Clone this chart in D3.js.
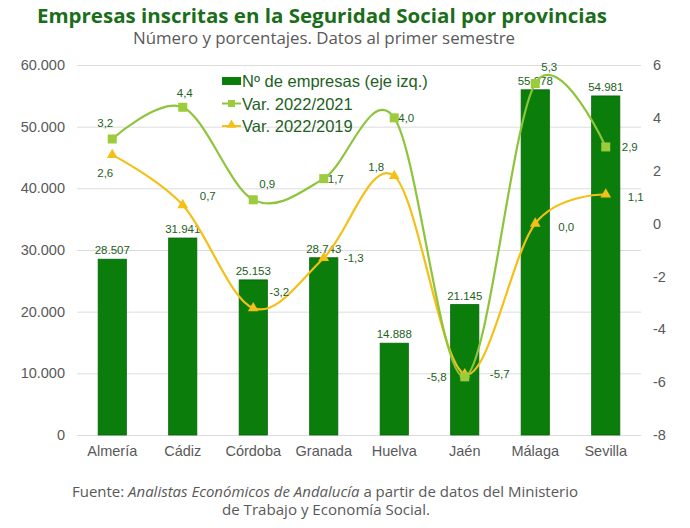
<!DOCTYPE html>
<html>

<head>
  <meta charset="utf-8">
  <title>Empresas inscritas en la Seguridad Social</title>
  <script type="text/javascript" src="https://cdn.jsdelivr.net/npm/d3@7"></script>
  <style type="text/css">
    body { margin: 0; background: #fff; }
    svg { display: block; }
  </style>
</head>

<body>
  <script type="text/javascript">

    // Data
    const provincias = ["Almería", "Cádiz", "Córdoba", "Granada", "Huelva", "Jaén", "Málaga", "Sevilla"];
    const empresas = [28507, 31941, 25153, 28743, 14888, 21145, 55978, 54981];
    const var2021 = [3.2, 4.4, 0.9, 1.7, 4.0, -5.8, 5.3, 2.9];
    const var2019 = [2.6, 0.7, -3.2, -1.3, 1.8, -5.7, 0.0, 1.1];
    const leftTicks = [0, 10000, 20000, 30000, 40000, 50000, 60000];
    const rightTicks = [-8, -6, -4, -2, 0, 2, 4, 6];

    // Where each data label sits relative to its marker (manual, as in the original)
    const labelOff2021 = [[-7, -16], [2, -14], [14, -16], [12, 0], [12, 0], [-28, 0], [14, -17], [24, 0]];
    const labelOff2019 = [[-7, 18], [25, -9], [26, -16], [30, 0], [-18, -9], [35, 0], [31, 3], [30, 2]];

    // Width and height
    const w = 690;
    const h = 528;
    const plotLeft = 77, plotRight = 641, plotTop = 65, plotBottom = 435;

    const green = "#0a7d0a";
    const lime = "#8dc43c";
    const yellow = "#f4bf16";
    const labelGreen = "#235f23";
    const gray = "#595959";

    const es = d3.formatLocale({ decimal: ",", thousands: ".", grouping: [3], currency: ["", "€"], minus: "-" });
    const fmtInt = es.format(",d");
    const fmtDec = es.format(".1f");

    const svg = d3.select("body")
      .append("svg")
      .attr("width", w)
      .attr("height", h)
      .style("font-family", "'Liberation Sans', Arial, sans-serif");

    // Scales
    const x = d3.scaleBand()
      .domain(provincias)
      .range([plotLeft, plotRight])
      .paddingInner(0.6)
      .paddingOuter(0.3);
    const yL = d3.scaleLinear().domain([0, 60000]).range([plotBottom, plotTop]);
    const yR = d3.scaleLinear().domain([-8, 6]).range([plotBottom, plotTop]);
    const cx = function (d, i) { return x(provincias[i]) + x.bandwidth() / 2; };

    // Titles
    svg.append("text")
      .attr("x", 37).attr("y", 23)
      .attr("textLength", 570).attr("lengthAdjust", "spacingAndGlyphs")
      .style("font-family", "'Open Sans', sans-serif")
      .style("font-weight", "bold").style("font-size", "19px")
      .attr("fill", "#1a6e1a")
      .text("Empresas inscritas en la Seguridad Social por provincias");
    svg.append("text")
      .attr("x", 133).attr("y", 44)
      .attr("textLength", 382).attr("lengthAdjust", "spacingAndGlyphs")
      .style("font-family", "'Open Sans', sans-serif")
      .style("font-size", "16px")
      .attr("fill", gray)
      .text("Número y porcentajes. Datos al primer semestre");

    // Left axis + gridlines
    const axL = svg.append("g")
      .attr("transform", "translate(" + plotLeft + ",0)")
      .call(d3.axisLeft(yL).tickValues(leftTicks).tickFormat(fmtInt)
        .tickSize(-(plotRight - plotLeft)).tickPadding(12));
    axL.select(".domain").remove();
    axL.selectAll("line").attr("stroke", "#dcdcdc");
    axL.selectAll("text").attr("fill", gray).style("font-size", "14.5px")
      .style("font-family", "'Liberation Sans', Arial, sans-serif");

    // Right axis
    const axR = svg.append("g")
      .attr("transform", "translate(" + plotRight + ",0)")
      .call(d3.axisRight(yR).tickValues(rightTicks).tickFormat(es.format("d"))
        .tickSize(0).tickPadding(12));
    axR.select(".domain").remove();
    axR.selectAll("text").attr("fill", gray).style("font-size", "14.5px")
      .style("font-family", "'Liberation Sans', Arial, sans-serif");

    // X axis labels
    const axX = svg.append("g")
      .attr("transform", "translate(0," + plotBottom + ")")
      .call(d3.axisBottom(x).tickSize(0).tickPadding(11));
    axX.select(".domain").remove();
    axX.selectAll("text").attr("fill", gray).style("font-size", "14.5px")
      .style("font-family", "'Liberation Sans', Arial, sans-serif");

    // Bars
    svg.selectAll("rect.bar")
      .data(empresas)
      .enter()
      .append("rect")
      .attr("class", "bar")
      .attr("x", function (d, i) { return x(provincias[i]); })
      .attr("y", function (d) { return yL(d); })
      .attr("width", x.bandwidth())
      .attr("height", function (d) { return plotBottom - yL(d); })
      .attr("fill", green)
      .attr("stroke", "#06640a")
      .attr("stroke-width", 0.8);

    svg.selectAll("text.barlabel")
      .data(empresas)
      .enter()
      .append("text")
      .attr("class", "barlabel")
      .attr("x", cx)
      .attr("y", function (d) { return yL(d) - 5; })
      .attr("text-anchor", "middle")
      .style("font-size", "11.5px")
      .attr("fill", labelGreen)
      .text(function (d) { return fmtInt(d); });

    // Smoothed lines
    const line = d3.line()
      .x(cx)
      .y(function (d) { return yR(d); })
      .curve(d3.curveCardinal.tension(0));

    svg.append("path")
      .datum(var2019)
      .attr("d", line)
      .attr("fill", "none")
      .attr("stroke", yellow)
      .attr("stroke-width", 2.2);

    svg.append("path")
      .datum(var2021)
      .attr("d", line)
      .attr("fill", "none")
      .attr("stroke", lime)
      .attr("stroke-width", 2.2);

    // Markers
    const tri = d3.symbol().type(d3.symbolTriangle).size(50);
    svg.selectAll("path.tri")
      .data(var2019)
      .enter()
      .append("path")
      .attr("class", "tri")
      .attr("d", tri)
      .attr("transform", function (d, i) { return "translate(" + cx(d, i) + "," + yR(d) + ")"; })
      .attr("fill", yellow);

    svg.selectAll("rect.sq")
      .data(var2021)
      .enter()
      .append("rect")
      .attr("class", "sq")
      .attr("x", function (d, i) { return cx(d, i) - 4.5; })
      .attr("y", function (d) { return yR(d) - 4.5; })
      .attr("width", 9)
      .attr("height", 9)
      .attr("fill", "#9ccb3b");

    // Data labels for the lines
    function addLabels(values, offsets, cls) {
      svg.selectAll("text." + cls)
        .data(values)
        .enter()
        .append("text")
        .attr("class", cls)
        .attr("x", function (d, i) { return cx(d, i) + offsets[i][0]; })
        .attr("y", function (d, i) { return yR(d) + offsets[i][1] + 4; })
        .attr("text-anchor", "middle")
        .style("font-size", "11.5px")
        .attr("fill", labelGreen)
        .text(function (d) { return fmtDec(d); });
    }
    addLabels(var2021, labelOff2021, "l21");
    addLabels(var2019, labelOff2019, "l19");

    // Legend
    const legend = svg.append("g").attr("transform", "translate(222,0)");
    legend.append("rect")
      .attr("x", 0).attr("y", 77).attr("width", 19).attr("height", 8)
      .attr("fill", green);
    legend.append("line")
      .attr("x1", 0).attr("x2", 19).attr("y1", 103.5).attr("y2", 103.5)
      .attr("stroke", lime).attr("stroke-width", 2);
    legend.append("rect")
      .attr("x", 6).attr("y", 100).attr("width", 7).attr("height", 7)
      .attr("fill", "#9ccb3b");
    legend.append("line")
      .attr("x1", 0).attr("x2", 19).attr("y1", 126).attr("y2", 126)
      .attr("stroke", yellow).attr("stroke-width", 2);
    legend.append("path")
      .attr("d", d3.symbol().type(d3.symbolTriangle).size(40))
      .attr("transform", "translate(9.5,125)")
      .attr("fill", yellow);
    const legendItems = ["Nº de empresas (eje izq.)", "Var. 2022/2021", "Var. 2022/2019"];
    legend.selectAll("text")
      .data(legendItems)
      .enter()
      .append("text")
      .attr("x", 20)
      .attr("y", function (d, i) { return 87 + i * 22.5; })
      .style("font-size", "16.5px")
      .attr("fill", labelGreen)
      .text(function (d) { return d; });

    // Source
    const src = svg.append("g")
      .style("font-family", "'Open Sans', sans-serif")
      .style("font-size", "14.5px")
      .attr("fill", gray);
    const l1 = src.append("text").attr("x", 72).attr("y", 497)
      .attr("textLength", 506).attr("lengthAdjust", "spacingAndGlyphs");
    l1.append("tspan").text("Fuente: ");
    l1.append("tspan").style("font-style", "italic").text("Analistas Económicos de Andalucía");
    l1.append("tspan").text(" a partir de datos del Ministerio");
    src.append("text").attr("x", 222).attr("y", 515)
      .attr("textLength", 208).attr("lengthAdjust", "spacingAndGlyphs")
      .text("de Trabajo y Economía Social.");

  </script>
</body>

</html>
